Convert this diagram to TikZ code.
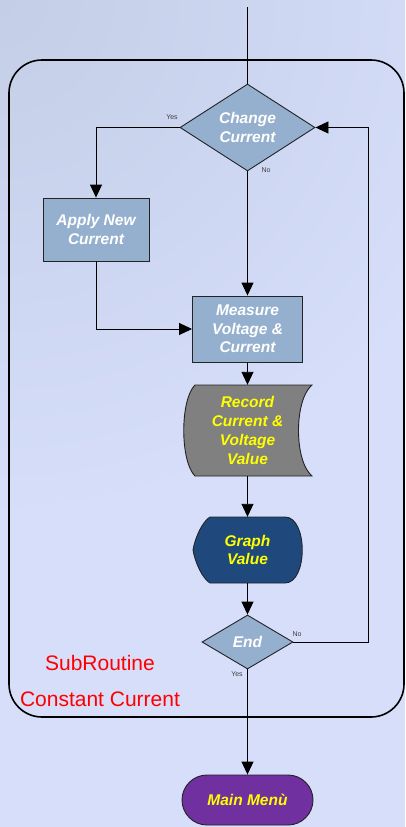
\documentclass[tikz,border=0pt]{standalone}
\usepackage{fontspec}
\setmainfont{Liberation Sans}
\usetikzlibrary{shapes.geometric,arrows.meta}
\definecolor{pagebg}{RGB}{214,222,250}
\definecolor{pageshade}{RGB}{196,206,230}
\definecolor{stepfill}{RGB}{149,176,206}
\definecolor{datafill}{RGB}{128,128,128}
\definecolor{showfill}{RGB}{31,73,125}
\definecolor{menufill}{RGB}{112,48,160}
\definecolor{edgecol}{RGB}{35,35,35}
\definecolor{hilite}{RGB}{255,255,0}
\begin{document}
\begin{tikzpicture}[x=1pt,y=-1pt,
  boxfont/.style={font=\fontsize{15.5}{18.7}\selectfont\bfseries\itshape, align=center},
  stepbox/.style={rectangle, draw=edgecol, line width=0.9pt, fill=stepfill,
    inner sep=0pt, text=white, boxfont},
  decision/.style={diamond, draw=edgecol, line width=0.9pt, fill=stepfill,
    inner sep=0pt, text=white, boxfont},
  flow/.style={line width=0.9pt, draw=black, -{Triangle[width=12pt,length=13pt]}},
  plain/.style={line width=0.9pt, draw=black},
  shapeline/.style={draw=edgecol, line width=0.9pt},
  tag/.style={font=\fontsize{7}{8}\selectfont, text=black!75},
  note/.style={font=\fontsize{21}{24}\selectfont, text=red}
]
\useasboundingbox (0,0) rectangle (405,827);

% page background with a soft darker corner
\fill[pagebg] (0,0) rectangle (405,827);
\begin{scope}
  \clip (0,0) rectangle (405,827);
  \shade[inner color=pageshade, outer color=pagebg] (0,0) circle (520);
\end{scope}

% subroutine frame
\draw[line width=1.6pt, rounded corners=33pt] (9,60) rectangle (404,717);

% steps
\node[decision, minimum width=135pt, minimum height=81pt] (cc) at (247.5,127.5) {Change\\Current};
\node[stepbox, minimum width=106pt, minimum height=63pt] (apply) at (96,229.5) {Apply New\\Current};
\node[stepbox, minimum width=110pt, minimum height=66pt] (meas) at (247.5,329) {Measure\\Voltage \&\\Current};

% stored data symbol
\filldraw[shapeline, fill=datafill] (195,385) -- (312,385) .. controls (294,400) and (294,461) .. (312,476)
  -- (195,476) .. controls (180,461) and (180,400) .. (195,385) -- cycle;
\node[minimum width=128pt, minimum height=91pt, inner sep=0pt, text=hilite, boxfont]
  (rec) at (247.5,430.5) {Record\\Current \&\\Voltage\\Value};

% display symbol
\filldraw[shapeline, fill=showfill] (210,517) -- (285,517) .. controls (308,517) and (308,583) .. (285,583)
  -- (210,583) .. controls (202,578) and (195,562) .. (193,550)
  .. controls (195,538) and (202,522) .. (210,517) -- cycle;
\node[minimum width=110pt, minimum height=66pt, inner sep=0pt, text=hilite, boxfont]
  (gv) at (247.5,550) {Graph\\Value};

\node[decision, minimum width=91pt, minimum height=54pt] (end) at (247.5,642) {End};

\node[rectangle, rounded corners=25pt, draw=edgecol, line width=0.9pt, fill=menufill,
  minimum width=131pt, minimum height=50pt, inner sep=0pt, text=hilite, boxfont]
  (mm) at (247.5,800) {Main Menù};

% connectors
\coordinate (entry) at (247.5,7);
\draw[plain] (entry) -- (cc.north);
\draw[flow] (cc.west) -| (apply.north);
\draw[flow] (cc.south) -- (meas.north);
\draw[flow] (apply.south) |- (meas.west);
\draw[flow] (meas.south) -- (rec.north);
\draw[flow] (rec.south) -- (gv.north);
\draw[flow] (gv.south) -- (end.north);
\draw[flow] (end.east) -- ++(75,0) |- (cc.east);
\draw[flow] (end.south) -- (mm.north);

% branch labels
\node[tag] at (172,117) {Yes};
\node[tag] at (266,170) {No};
\node[tag] at (297,634) {No};
\node[tag] at (237,674) {Yes};

% frame caption
\node[note] at (100,663) {SubRoutine};
\node[note] at (100,699) {Constant Current};
\end{tikzpicture}
\end{document}
